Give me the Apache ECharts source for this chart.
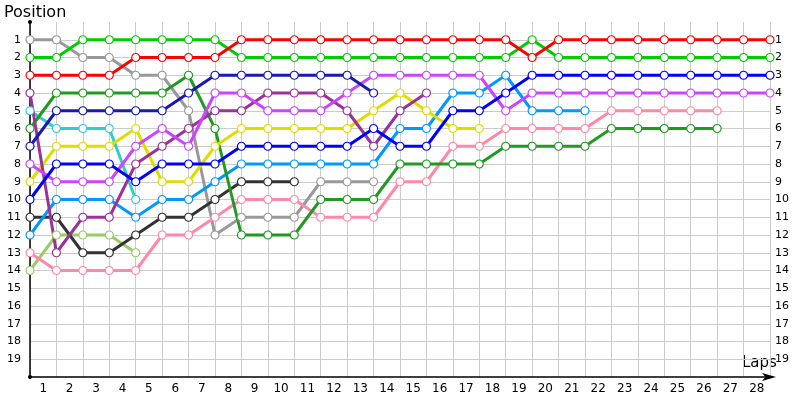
<!DOCTYPE html>
<html>
<head>
<meta charset="utf-8">
<script src="https://cdn.jsdelivr.net/npm/echarts@6/dist/echarts.min.js"></script>
<style>
  html, body { margin: 0; padding: 0; background: #fff; }
  #chart { width: 800px; height: 400px; }
</style>
</head>
<body>
<div id="chart"></div>
<script>
// lap numbers shown on the x axis
const lapLabels = ['1','2','3','4','5','6','7','8','9','10','11','12','13','14','15','16','17','18','19','20','21','22','23','24','25','26','27','28']

// position of each driver, lap 0 (grid) onwards
const gray      = [1,1,2,2,3,3,5,12,11,11,11,9,9,9]
const green     = [2,2,1,1,1,1,1,1,2,2,2,2,2,2,2,2,2,2,2,1,2,2,2,2,2,2,2,2,2]
const red       = [3,3,3,3,2,2,2,2,1,1,1,1,1,1,1,1,1,1,1,2,1,1,1,1,1,1,1,1,1]
const purple    = [4,13,11,11,8,7,6,5,5,4,4,4,5,7,5,4]
const cyan      = [5,6,6,6,10]
const darkGreen = [6,4,4,4,4,4,3,6,12,12,12,10,10,10,8,8,8,8,7,7,7,7,6,6,6,6,6]
const navy      = [7,5,5,5,5,5,4,3,3,3,3,3,3,4]
const violet    = [8,9,9,9,7,6,7,4,4,5,5,5,4,3,3,3,3,3,5,4,4,4,4,4,4,4,4,4,4]
const yellow    = [9,7,7,7,6,9,9,7,6,6,6,6,6,5,4,5,6,6]
const blue      = [10,8,8,8,9,8,8,8,7,7,7,7,7,6,7,7,5,5,4,3,3,3,3,3,3,3,3,3,3]
const black     = [11,11,13,13,12,11,11,10,9,9,9]
const lightBlue = [12,10,10,10,11,10,10,9,8,8,8,8,8,8,6,6,4,4,3,5,5,5]
const pink      = [13,14,14,14,14,12,12,11,10,10,10,11,11,11,9,9,7,7,6,6,6,6,5,5,5,5,5]
const olive     = [14,12,12,12,13]

const drivers = [
  { name: 'gray', data: gray, color: '#999999' },
  { name: 'olive', data: olive, color: '#99cc66' },
  { name: 'cyan', data: cyan, color: '#33cccc' },
  { name: 'black', data: black, color: '#333333' },
  { name: 'pink', data: pink, color: '#ff88aa' },
  { name: 'lightBlue', data: lightBlue, color: '#0099ff' },
  { name: 'darkGreen', data: darkGreen, color: '#229922' },
  { name: 'yellow', data: yellow, color: '#dddd00' },
  { name: 'purple', data: purple, color: '#993399' },
  { name: 'violet', data: violet, color: '#cc44ff' },
  { name: 'navy', data: navy, color: '#1a1ab0' },
  { name: 'blue', data: blue, color: '#0000ff' },
  { name: 'green', data: green, color: '#00cc00' },
  { name: 'red', data: red, color: '#ff0000' }
]

const font = 'Tahoma, "DejaVu Sans", sans-serif'
const chart = echarts.init(document.getElementById('chart'))

const posLabel = v => (v >= 1 && v <= 19 ? String(v) : '')

chart.setOption({
  animation: false,
  grid: { left: 30, right: 30, top: 22, bottom: 23 },
  xAxis: [
    {
      type: 'value',
      min: 0,
      max: 28,
      interval: 1,
      position: 'bottom',
      axisLine: {
        onZero: false,
        lineStyle: { color: '#000', width: 1.5 },
        symbol: ['none', 'arrow'],
        symbolSize: [6, 14],
        symbolOffset: [0, 6]
      },
      axisTick: { show: false },
      axisLabel: { show: false },
      splitLine: { lineStyle: { color: '#cccccc', width: 1 } }
    },
    {
      type: 'category',
      data: lapLabels,
      boundaryGap: true,
      position: 'bottom',
      axisLine: { show: false, onZero: false },
      axisTick: { show: false },
      splitLine: { show: false },
      axisLabel: { color: '#000', fontSize: 12, fontFamily: font, margin: 6 }
    }
  ],
  yAxis: [
    {
      type: 'value',
      inverse: true,
      min: 0,
      max: 20,
      interval: 1,
      position: 'left',
      axisLine: {
        onZero: false,
        lineStyle: { color: '#000', width: 1.5 },
        symbol: ['circle', 'circle'],
        symbolSize: [4, 4]
      },
      axisTick: { show: false },
      splitLine: { showMinLine: false, showMaxLine: false, lineStyle: { color: '#cccccc', width: 1 } },
      axisLabel: { color: '#000', fontSize: 11, fontFamily: font, margin: 9, formatter: posLabel }
    },
    {
      type: 'value',
      inverse: true,
      min: 0,
      max: 20,
      interval: 1,
      position: 'right',
      axisLine: { show: false, onZero: false },
      axisTick: { show: false },
      splitLine: { show: false },
      axisLabel: { color: '#000', fontSize: 11, fontFamily: font, margin: 5, formatter: posLabel }
    }
  ],
  graphic: [
    { type: 'text', left: 4, top: 5, style: { text: 'Position', font: '16px ' + font, fill: '#000' } },
    { type: 'text', left: 742, top: 356, style: { text: 'Laps', font: '15px ' + font, fill: '#000' } }
  ],
  series: drivers.map(d => ({
    name: d.name,
    type: 'line',
    data: d.data.map((p, lap) => [lap, p]),
    symbol: 'circle',
    symbolSize: 8,
    showAllSymbol: true,
    lineStyle: { color: d.color, width: 3 },
    itemStyle: { color: '#ffffff', borderColor: d.color, borderWidth: 1.2 },
    emphasis: { disabled: true }
  }))
})

window.addEventListener('resize', () => chart.resize())
</script>
</body>
</html>
